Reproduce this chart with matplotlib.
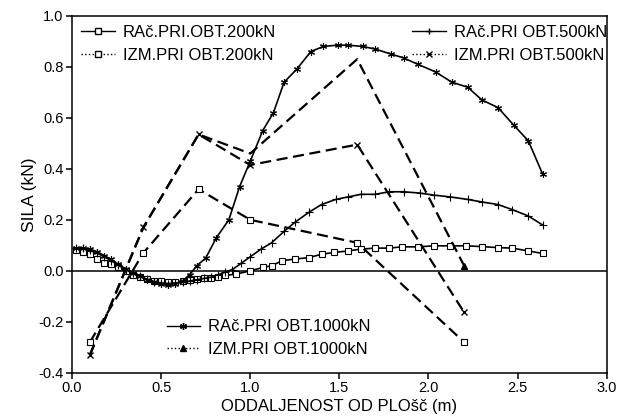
import numpy as np
import matplotlib
matplotlib.use("Agg")
import matplotlib.pyplot as plt
from matplotlib.lines import Line2D

plt.rcParams['font.family'] = ['Liberation Sans', 'DejaVu Sans']

# racunane vrednosti - 200kN
x_rac200 = [0.02, 0.06, 0.10, 0.14, 0.18, 0.22, 0.26, 0.30, 0.34, 0.38, 0.42, 0.46, 0.50,
            0.54, 0.58, 0.62, 0.66, 0.70, 0.74, 0.78, 0.82, 0.86, 0.92, 1.00, 1.07, 1.12,
            1.18, 1.25, 1.33, 1.40, 1.47, 1.55, 1.62, 1.70, 1.78, 1.85, 1.94, 2.03, 2.12,
            2.21, 2.30, 2.39, 2.47, 2.56, 2.64]
y_rac200 = [0.08, 0.075, 0.065, 0.045, 0.03, 0.025, 0.015, 0.0, -0.015, -0.025, -0.032,
            -0.038, -0.04, -0.042, -0.042, -0.04, -0.037, -0.034, -0.03, -0.027, -0.023,
            -0.018, -0.013, 0.0, 0.013, 0.02, 0.04, 0.046, 0.052, 0.065, 0.072, 0.078,
            0.085, 0.089, 0.089, 0.094, 0.094, 0.098, 0.098, 0.098, 0.095, 0.091, 0.089,
            0.078, 0.068]

# racunane vrednosti - 500kN
x_rac500 = [0.02, 0.06, 0.10, 0.14, 0.18, 0.22, 0.26, 0.30, 0.34, 0.38, 0.42, 0.46, 0.50,
            0.54, 0.58, 0.62, 0.66, 0.70, 0.74, 0.78, 0.82, 0.86, 0.90, 0.95, 1.00, 1.06,
            1.12, 1.19, 1.25, 1.33, 1.40, 1.48, 1.55, 1.62, 1.70, 1.78, 1.86, 1.95, 2.03,
            2.12, 2.22, 2.30, 2.39, 2.47, 2.56, 2.64]
y_rac500 = [0.09, 0.088, 0.08, 0.07, 0.055, 0.04, 0.022, 0.005, -0.01, -0.022, -0.033,
            -0.042, -0.048, -0.05, -0.048, -0.045, -0.04, -0.035, -0.03, -0.025, -0.015,
            -0.005, 0.005, 0.03, 0.055, 0.085, 0.11, 0.155, 0.19, 0.23, 0.26, 0.28, 0.29,
            0.30, 0.30, 0.31, 0.31, 0.305, 0.297, 0.29, 0.28, 0.27, 0.26, 0.24, 0.215, 0.18]

# racunane vrednosti - 1000kN
x_rac1000 = [0.02, 0.06, 0.10, 0.14, 0.18, 0.22, 0.26, 0.30, 0.34, 0.38, 0.42, 0.46, 0.50,
             0.54, 0.58, 0.62, 0.66, 0.70, 0.75, 0.81, 0.88, 0.94, 1.00, 1.07, 1.13, 1.19,
             1.26, 1.34, 1.41, 1.49, 1.55, 1.63, 1.70, 1.79, 1.86, 1.94, 2.04, 2.13, 2.22,
             2.30, 2.39, 2.48, 2.56, 2.64]
y_rac1000 = [0.09, 0.09, 0.085, 0.075, 0.06, 0.045, 0.025, 0.008, -0.008, -0.022, -0.035,
             -0.045, -0.052, -0.055, -0.05, -0.04, -0.015, 0.02, 0.05, 0.13, 0.20, 0.33,
             0.43, 0.55, 0.62, 0.74, 0.79, 0.86, 0.88, 0.885, 0.885, 0.88, 0.87, 0.85,
             0.835, 0.81, 0.78, 0.74, 0.72, 0.67, 0.64, 0.57, 0.51, 0.38]

# izmerjene vrednosti
x_izm = [0.1, 0.4, 0.71, 1.0, 1.6, 2.2]
y_izm200 = [-0.28, 0.07, 0.32, 0.20, 0.11, -0.28]
y_izm500 = [-0.33, 0.17, 0.535, 0.415, 0.495, -0.163]
y_izm1000 = [-0.33, 0.17, 0.535, 0.46, 0.83, 0.02]

fig = plt.figure(figsize=(6.21, 4.17), dpi=100)
ax = fig.add_axes([0.116, 0.106, 0.861, 0.856])

ms = 5
dash = (5, 2.5)
ax.axhline(0.0, color='black', lw=1.1)

ax.plot(x_rac200, y_rac200, '-', color='black', lw=1.2, marker='s', ms=ms, mfc='white', mew=0.8)
ax.plot(x_rac500, y_rac500, '-', color='black', lw=1.2, marker='+', ms=ms + 1, mew=0.8)
ax.plot(x_rac1000, y_rac1000, '-', color='black', lw=1.2, marker=(6, 2, 0), ms=ms, mew=0.8)

ax.plot(x_izm, y_izm200, color='black', lw=1.6, dashes=dash, marker='s', ms=ms, mfc='white', mew=0.8)
ax.plot(x_izm, y_izm500, color='black', lw=1.6, dashes=dash, marker='x', ms=ms, mew=1.0)
ax.plot(x_izm, y_izm1000, color='black', lw=1.6, dashes=dash)
ax.plot(x_izm[-1:], y_izm1000[-1:], ls='none', color='black', marker='^', ms=ms)

ax.set_xlim(0.0, 3.0)
ax.set_ylim(-0.4, 1.0)
ax.set_xticks(np.arange(0, 3.01, 0.5))
ax.set_yticks(np.arange(-0.4, 1.01, 0.2))
ax.xaxis.set_major_formatter(matplotlib.ticker.FormatStrFormatter('%.1f'))
ax.yaxis.set_major_formatter(matplotlib.ticker.FormatStrFormatter('%.1f'))
ax.tick_params(direction='out', labelsize=10.5, length=4, width=1.1, pad=2)
for s in ax.spines.values():
    s.set_linewidth(1.1)

ax.set_xlabel("ODDALJENOST OD PLOšč (m)", fontsize=12, labelpad=3)
ax.set_ylabel("SILA (kN)", fontsize=12.5, labelpad=1)

def h(style, marker, **kw):
    return Line2D([], [], color='black', ls=style, lw=1.0, marker=marker, ms=ms, **kw)

leg_kw = dict(frameon=False, fontsize=12, handlelength=2.0, handletextpad=0.5,
              labelspacing=0.45, borderaxespad=0.15)

l1 = ax.legend([h('-', 's', mfc='white'), h(':', 's', mfc='white')],
               ["RAč.PRI.OBT.200kN", "IZM.PRI OBT.200kN"], loc='upper left', **leg_kw)
ax.add_artist(l1)
l2 = ax.legend([h('-', '+'), h(':', 'x')],
               ["RAč.PRI OBT.500kN", "IZM.PRI OBT.500kN"], loc='upper right',
               bbox_to_anchor=(1.018, 1.0), **leg_kw)
ax.add_artist(l2)
ax.legend([h('-', (6, 2, 0)), h(':', '^')],
          ["RAč.PRI OBT.1000kN", "IZM.PRI OBT.1000kN"],
          loc='upper left', bbox_to_anchor=(0.16, 0.175), **leg_kw)

fig.savefig("out.png", dpi=100)
